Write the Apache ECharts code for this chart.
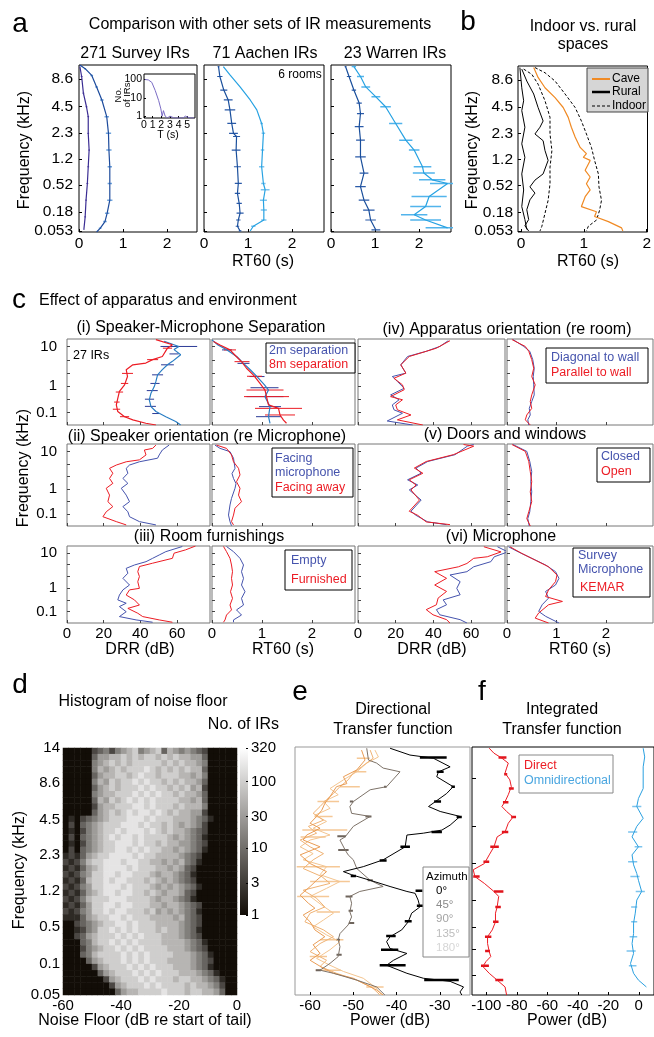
<!DOCTYPE html>
<html>
<head>
<meta charset="utf-8">
<script src="https://cdn.jsdelivr.net/npm/echarts@6/dist/echarts.min.js"></script>
<style>
html, body { margin: 0; padding: 0; background: #fff; }
#chart { width: 654px; height: 1037px; }
</style>
</head>
<body>
<div id="chart"></div>
<script>
// ---------- data (x value, frequency band position) ----------
// panel a/b band positions 0..32, c rows 0..30, d/e/f 0..40
var bandPosA = [0.2, 3.8, 9.0, 14.0, 19.0, 24.1, 29.3];
var bandLabA = ['0.053', '0.18', '0.52', '1.2', '2.3', '4.5', '8.6'];
var bandPosC = [4.4, 13.5, 27.3];
var bandLabC = ['0.1', '1', '10'];
var bandMinorC = [4.4, 9.0, 13.5, 18.1, 22.7, 27.3];
var bandPosD = [0, 5, 11, 16.8, 22.7, 28.4, 34.4, 40];
var bandLabD = ['0.05', '0.1', '0.5', '1.2', '2.3', '4.5', '8.6', '14'];
var bandTicksF = [3.2, 7.3, 11, 15.3, 21.2, 27.2, 34.9];

// a: 271 survey IRs
var surveyLow = [[0.02,31.7],[0.06,29.8],[0.1,26.6],[0.17,24],[0.21,22.1],[0.21,18.9],[0.23,15.7],[0.21,12.5],[0.19,9.3],[0.16,6.1],[0.14,2.9],[0.11,0.4]];
var surveyLowErr = [0,0.02,0.02,0.02,0.02,0.02,0.02,0.02,0.02,0.02,0.02,0];
var surveyMed = [[0.02,32],[0.14,31.3],[0.29,30],[0.4,27.8],[0.52,25.3],[0.63,22.1],[0.67,18.9],[0.68,15.7],[0.7,12.5],[0.7,9.3],[0.7,6.1],[0.64,3.6],[0.59,2],[0.48,0.7],[0.4,0]];
var surveyMedErr = [0,0.02,0.03,0.03,0.04,0.05,0.06,0.06,0.05,0.05,0.06,0.05,0.04,0.03,0];
// a: inset histogram of T
var insetT = [0.1,0.5,0.9,1.3,1.7,1.95,2.1,2.25,2.45,2.7,2.9,3.0,3.1,3.5,4.0,4.5,4.7,4.8,4.9,5.3,5.8];
var insetCount = [100,95,70,25,7,2.5,1,2,1,0,0,1,0,0,0,0,0,1,0,0,0];
// a: Aachen
var aachenDark = [[0.33,31.7],[0.36,29.8],[0.45,27.2],[0.55,25.3],[0.59,23.4],[0.63,20.8],[0.67,18.9],[0.74,18.3],[0.73,15.7],[0.76,12.5],[0.78,9.3],[0.76,7.4],[0.8,5.5],[0.82,3.6],[0.78,2.3],[0.76,1.1],[0.82,0.2]];
var aachenDarkErr = [0.02,0.06,0.08,0.1,0.12,0.1,0.1,0.08,0.1,0.08,0.08,0.06,0.06,0.08,0.05,0.04,0.03];
var aachenLight = [[0.44,31.7],[0.59,30.1],[0.82,27.8],[1.05,25.3],[1.2,23.4],[1.31,20.8],[1.35,18.9],[1.33,15.7],[1.31,12.5],[1.35,9.3],[1.39,8.1],[1.35,6.1],[1.36,4.2],[1.36,2.3],[1.12,1.1],[1.05,0.2]];
var aachenLightErr = [0,0,0,0,0,0.03,0.04,0.04,0.06,0.05,0.1,0.08,0.07,0.06,0.05,0];
// a: Warren
var warrenDark = [[0.33,31.7],[0.41,29.8],[0.52,27.2],[0.64,24.7],[0.67,22.7],[0.64,20.2],[0.67,17.6],[0.67,14.4],[0.75,11.3],[0.67,8.7],[0.75,6.1],[0.86,4.2],[0.9,2.3],[1.02,0.4]];
var warrenDarkErr = [0.02,0.05,0.05,0.06,0.08,0.1,0.1,0.12,0.1,0.12,0.12,0.13,0.12,0.1];
var warrenLight = [[0.52,31.7],[0.67,29.8],[0.79,27.8],[1.02,25.9],[1.24,24],[1.47,20.8],[1.7,17.6],[1.89,15.7],[2.08,12.5],[2.11,11.3],[2.3,10],[2.65,9.3],[2.23,6.8],[2.15,4.9],[1.89,3.3],[2.15,2.3],[2.65,0.8]];
var warrenLightErr = [0.05,0.08,0.1,0.1,0.12,0.15,0.15,0.12,0.2,0.25,0.3,0.4,0.4,0.35,0.3,0.35,0.5];

// b: indoor vs rural
var rural1 = [[-0.02,31.7],[0.01,27.8],[0.04,25.3],[0.01,23.4],[0.06,20.2],[0.01,17],[0.06,14.4],[0.01,11.2],[0.04,8.1],[0.01,4.9],[0.06,2.4],[0.09,0.5]];
var rural2 = [[0.01,31.4],[0.09,29.1],[0.2,26.6],[0.27,24],[0.35,21.4],[0.3,20.2],[0.22,18.9],[0.35,17.6],[0.38,15.7],[0.43,13.8],[0.35,11.2],[0.22,10],[0.14,8.7],[0.22,7.5],[0.14,6.2],[0.09,4.3],[0.12,2.4],[0.06,1.2],[0.12,0.2]];
var indoor1 = [[0.04,31.4],[0.17,30.4],[0.27,28.5],[0.38,25.3],[0.46,22.1],[0.46,18.9],[0.49,15.7],[0.46,12.5],[0.46,9.3],[0.43,6.1],[0.38,3.6],[0.33,1.1],[0.3,0.2]];
var indoor2 = [[0.22,31.7],[0.38,30.7],[0.54,29.1],[0.7,26.6],[0.86,24],[0.96,21.4],[1.04,18.9],[1.12,16.3],[1.17,13.8],[1.23,11.2],[1.24,8.7],[1.28,6.1],[1.25,4.2],[1.2,2.3],[1.07,1.1],[1.04,0.2]];
var cave = [[0.2,31.7],[0.27,29.8],[0.38,27.8],[0.54,25.9],[0.67,24],[0.75,22.1],[0.8,20.2],[0.86,18.3],[0.94,16.3],[1.04,15.1],[0.99,14.4],[1.1,13.8],[1.02,11.9],[1.1,10.6],[1.04,9.3],[1.1,8.1],[1.02,6.8],[0.96,4.9],[1.2,3.9],[1.17,3],[1.39,2],[1.6,0.8],[1.62,0.2]];

// c (i) separation
var sepRedDrr = [[48.5,29.8],[57.5,28],[54.8,26.8],[52,23.9],[46.7,22.8],[43,21.6],[35.9,21],[32.3,19.3],[33,16.9],[31.4,14],[28.6,11.7],[27.7,9.3],[26.9,7],[27.7,4.7],[31.4,2.9],[35.9,1.8],[43,0.6],[48.5,0]];
var sepBlueDrr = [[53,29.2],[61,27.4],[58.4,26.3],[62,24.5],[57.5,22.2],[54.8,21],[52,19.3],[49.4,17.5],[48.5,15.2],[47.6,13.4],[45.8,11.1],[44.9,8.8],[45.8,6.4],[48.5,4.7],[53.9,2.9],[59.3,1.2],[62,0]];
var sepRedDrrErr = [[54.8,26.8,2.5],[46.7,22.8,3],[33,18,3],[31.4,14.5,2],[28.6,11.5,2],[27.2,8,1.5],[27,5.5,2],[31.4,2.9,2.5]];
var sepBlueDrrErr = [[61,27.4,10],[58.4,24.8,2.5],[54.8,21,3.5],[49.4,17.5,3],[48,14.5,2.5],[46.5,12,3],[45,9,2.5],[45.5,6.5,3],[48.5,4,2]];
var sepRedRt = [[0.03,29.1],[0.16,27.9],[0.36,26.2],[0.49,23.8],[0.59,22.1],[0.69,19.8],[0.83,17.4],[0.96,14.5],[1.06,12.2],[1.09,9.9],[1.13,7],[1.33,5.8],[1.36,3.5],[1.43,1.7],[1.49,0.6]];
var sepBlueRt = [[0,29.7],[0.12,27.9],[0.3,26.2],[0.5,23.8],[0.63,21.5],[0.77,19.2],[0.9,16.9],[1.05,14],[1.13,12.2],[1.06,9.9],[1.16,6.4],[1.13,2.9],[1.16,0.6]];
var sepRedRtErr = [[0.36,26.2,0.12],[0.6,22.1,0.15],[0.85,17,0.15],[1.06,12.2,0.37],[1.09,9.9,0.45],[1.33,5.8,0.47],[1.36,3.5,0.3]];
var sepBlueRtErr = [[0.3,26.2,0.1],[0.63,21.5,0.12],[0.9,16.9,0.15],[1.05,13,0.28],[1.06,9.9,0.37],[1.16,6.4,0.22],[1.13,2.9,0.25]];
// c (ii) speaker orientation
var orientRedDrr = [[48.5,29.6],[46.7,28.4],[42.2,27.8],[43.1,26],[39.5,24.2],[32.3,23.5],[26.9,22.3],[23.2,21.1],[25,19.3],[23.2,17.4],[25,15.6],[21.4,13.8],[23.2,11.3],[22.3,8.9],[25,7.1],[21.4,5.2],[19.6,3.4],[26.9,1.6],[32.3,0.4]];
var orientBlueDrr = [[55.7,29.6],[52,27.8],[50.3,26],[49.4,24.8],[39.5,23.5],[34.1,22.3],[32.3,21.1],[33.2,19.3],[30.5,17.4],[33.2,15.6],[29.6,13.8],[32.3,11.3],[34.1,8.9],[30.5,7.1],[33.2,5.2],[34.1,3.4],[39.5,1.6],[48.5,0.4]];
var orientRedRt = [[0.09,29.6],[0.29,28.4],[0.39,26],[0.43,23.5],[0.53,21.1],[0.56,18.7],[0.49,16.2],[0.56,13.8],[0.53,11.3],[0.59,8.9],[0.46,6.5],[0.43,4],[0.39,1.6],[0.43,0.4]];
var orientBlueRt = [[0.06,29.6],[0.16,28.4],[0.36,27.2],[0.43,24.8],[0.46,21.1],[0.4,19.2],[0.43,17.4],[0.48,15.5],[0.46,13.8],[0.39,10.1],[0.36,7.7],[0.33,4],[0.36,1.6],[0.39,0.1]];
// c (iii) furnishings
var furnBlueDrr = [[62.9,29.8],[53.9,27.8],[50.3,26.5],[46.7,25.2],[43.1,23.9],[36.8,22.6],[32.3,21.3],[33.2,19.4],[30.5,17.4],[34.1,14.8],[30.5,12.9],[28.6,10.9],[27.7,9],[32.3,7.7],[28.6,6.4],[32.3,4.4],[28.6,2.5],[37.7,1.2],[46.7,0.3]];
var furnRedDrr = [[70.1,30],[64.7,28.5],[58.4,27.2],[57.5,25.2],[46.7,23.3],[39.5,22],[38.6,20],[39.5,18.1],[38.6,16.1],[39.5,13.5],[34.1,12.9],[32.3,10.9],[36.8,9],[39.5,7],[33.2,5.7],[38.6,3.8],[41.3,2.5],[50.3,1.2],[57.5,0.3]];
var furnRedRt = [[0.23,29.8],[0.29,27.8],[0.36,25.2],[0.39,22.6],[0.41,20],[0.39,17.4],[0.41,14.8],[0.37,12.2],[0.41,9.6],[0.36,7],[0.39,5.1],[0.29,3.1],[0.26,1.2],[0.23,0.3]];
var furnBlueRt = [[0.29,29.8],[0.43,27.8],[0.56,25.2],[0.63,22.6],[0.59,20],[0.63,17.4],[0.59,14.8],[0.66,12.2],[0.59,9.6],[0.63,7],[0.49,5.1],[0.59,3.1],[0.43,1.2],[0.43,0.3]];
// c (iv) apparatus orientation
var appRedDrr = [[48.8,29.4],[41.6,26.8],[36.2,25.7],[27.2,23.9],[22.7,21],[25.4,18.1],[19.1,16.3],[23.6,14],[24.5,12.3],[17.3,9.9],[23.6,8.8],[20,7],[20.9,5.3],[28.1,3.5],[20.9,1.8],[34.4,0]];
var appBlueDrr = [[47.9,29.4],[43.4,27.4],[36.2,25.7],[26.3,23.9],[22.7,21],[25.4,18.1],[18.2,16.9],[20.9,15.2],[24.5,12.8],[17.3,10.5],[21.8,8.8],[18.2,7],[19.1,5.3],[23.6,4.1],[15.5,1.4],[29,0]];
var appRedRt = [[0.1,29.8],[0.37,27.4],[0.44,25.7],[0.5,22.8],[0.54,19.8],[0.5,16.9],[0.57,14],[0.5,10.5],[0.47,8.2],[0.5,5.8],[0.4,3.5],[0.37,1.8],[0.47,0]];
var appBlueRt = [[0.12,29.8],[0.34,27.4],[0.46,25.7],[0.52,22.8],[0.55,19.8],[0.53,16.9],[0.54,14],[0.55,10.5],[0.5,8.2],[0.45,5.8],[0.47,3.5],[0.42,1.8],[0.44,0]];
// c (v) doors and windows
var doorRedDrr = [[56,29.8],[61.4,29.2],[50.6,26.1],[36.2,23.6],[29.9,21.2],[34.4,19.3],[27.2,16.9],[30.8,15],[28.1,13.2],[32.6,9.5],[27.2,5.4],[31.7,3.9],[36.2,1.5],[48.8,0.5]];
var doorBlueDrr = [[61.4,29.8],[58,29.2],[51.5,26.1],[37,23.6],[30.8,21.2],[33.5,19.3],[26.3,16.9],[31.7,15],[27.2,13.2],[33.5,9.5],[28.1,5.4],[30.8,3.9],[37,1.5],[47,0.5]];
var doorRedRt = [[0.1,29.8],[0.37,27.3],[0.44,23.6],[0.47,19.9],[0.5,16.2],[0.47,12.5],[0.5,8.9],[0.44,5.2],[0.4,2.7],[0.47,0]];
var doorBlueRt = [[0.12,29.8],[0.4,27.3],[0.46,23.6],[0.5,19.9],[0.48,16.2],[0.5,12.5],[0.48,8.9],[0.46,5.2],[0.42,2.7],[0.45,0]];
// c (vi) microphone
var micBlueDrr = [[74,29.7],[79.5,27.7],[72.3,25.8],[70.5,23.9],[61.4,21.9],[57.8,20],[48.8,18.7],[54.2,16.1],[52.4,13.5],[54.2,11],[45.2,9],[47,7.1],[41.6,5.2],[43.4,3.2],[54.2,1.3],[57.8,0]];
var micRedDrr = [[66.8,29.7],[75.9,27.7],[68.6,25.8],[61.4,25.2],[57.8,23.2],[53.3,21.9],[40.7,20],[47,17.4],[40.7,14.8],[47,12.3],[42.5,9.7],[41.6,7.1],[36.2,5.2],[39.8,3.2],[47,1.3],[48.8,0]];
var micBlueRt = [[0.03,29.7],[0.23,27.7],[0.5,25.2],[0.78,22.6],[0.98,20],[1.05,17.4],[0.98,14.8],[0.78,12.3],[0.84,9.7],[0.71,7.1],[0.64,4.5],[0.78,2.6],[1.05,0]];
var micRedRt = [[0.06,29.7],[0.3,27.1],[0.57,24.5],[0.84,21.9],[1.01,18.7],[0.98,16.1],[0.84,12.9],[0.78,10.3],[1.12,8.4],[0.84,7.1],[0.64,3.9],[0.57,1.9],[0.84,0]];

// d: noise floor histogram, one string per frequency row (top row first),
// one digit per 2 dB bin, digit = count level (see levelCounts)
var noiseDb = [-59,-57,-55,-53,-51,-49,-47,-45,-43,-41,-39,-37,-35,-33,-31,-29,-27,-25,-23,-21,-19,-17,-15,-13,-11,-9,-7,-5,-3,-1];
var levelCounts = [0, 1, 2, 4, 8, 15, 30, 55, 100, 170];
var noiseRows = [
  '000003453567856784765654300000',
  '000004667787878878787766400000',
  '000005678787888887878776500000',
  '000005767878889878787877400000',
  '000004677887898878887767500000',
  '000005768788989887878776400000',
  '000004678788898988787867300000',
  '000005677888989898878776400000',
  '000004768789898988887767400000',
  '000003677888998988878777500000',
  '000004678789899898787766300000',
  '020345678889998988877765420000',
  '030456788899989887876765310000',
  '020356788989998987877654300000',
  '130456789899898888767654200000',
  '020356788999898878776654310000',
  '030456788998989887767654200000',
  '232467889999898877776543000000',
  '323578899989988776767542000000',
  '232467899998988877676431000000',
  '323568899899888767765420000000',
  '232478898998887876765430000000',
  '323568899989888767676542000000',
  '232467899899887876776431000000',
  '323578889998888767765420000000',
  '232468899899888776776543000000',
  '323568898998887867676542000000',
  '222467889989888777767543000000',
  '003456788998988877776543000000',
  '002356889898988878776542000000',
  '003467888989898887776543100000',
  '000457889898988887777654200000',
  '000356788989898888777654300000',
  '000457888898989888877765420000',
  '000046788898989888777765430000',
  '000003678889898988877765420000',
  '000000467888989898887776542000',
  '000000036788898988878877654200',
  '000000003678889898888787765300',
  '000000000467788889888788776400'
];
var cbarPos = [0, 0.477, 1, 1.477, 2, 2.505];
var cbarLab = ['1', '3', '10', '30', '100', '320'];

// e: directional transfer function (dB, band)
var az0 = [[-41.5,39.8],[-36.9,38.7],[-31.5,38.2],[-27.6,36.8],[-30.3,36],[-30.7,35.2],[-26.9,33.6],[-28.4,32.5],[-32.6,30.4],[-29.9,29.6],[-25.3,28.8],[-27.6,27.4],[-29.5,26.6],[-33.8,26.1],[-37.6,25.8],[-38,23.9],[-43.1,21.8],[-47.7,20.7],[-52.3,19.9],[-50.4,19.4],[-46.1,18.5],[-41.5,17.5],[-37.6,16.7],[-35.7,16.4],[-35,15.3],[-34.6,14.2],[-36.5,13.2],[-37.3,11.8],[-38.8,10.5],[-41.5,9.4],[-42.3,8.6],[-41.5,7.5],[-37.6,6.7],[-40.7,5.6],[-42.3,4.8],[-37.6,3.5],[-33.8,2.7],[-27.6,2.2],[-24.5,1.3],[-25.3,0.5],[-24.9,0]];
var az0Err = [[-31.5,38.3,3.1],[-29.9,36,0.8],[-26.9,33.6,0.4],[-30.5,31.2,0.8],[-25.5,28.7,0.6],[-30.7,26.3,1.2],[-38,23.9,1.1],[-43.1,21.7,0.8],[-50,19.2,0.6],[-34.8,16.8,0.8],[-34.6,14.4,0.7],[-37.3,11.9,0.8],[-41.3,9.5,1.1],[-41.6,7.3,2],[-40.9,4.8,3],[-29.6,2.4,4]];
var az45 = [[-46.9,39.8],[-46.5,37.9],[-44.6,37.4],[-43.1,36.6],[-39.2,36],[-42.3,33.6],[-46.1,33.1],[-50,31.2],[-50.8,30.4],[-50.4,29.3],[-46.1,28.8],[-50,27.2],[-51.9,25.5],[-53.1,25],[-51.9,23.4],[-51.2,22.6],[-50,21.8],[-49.2,20.4],[-46.1,18.5],[-43.1,17.5],[-48.5,16.7],[-50.8,15.9],[-50.4,14.8],[-50.8,13.4],[-50.4,12.6],[-51.2,11.3],[-53.1,9.9],[-53.5,8.9],[-53.1,7.8],[-53.5,6.2],[-55.4,5.1],[-57.7,4],[-54.6,3.5],[-49.2,2.4],[-44.6,1.3],[-42.7,0]];
var az45Err = [[-42.6,33.6,0.3],[-50.4,31.2,0.4],[-46.5,28.8,0.7],[-52.7,25.6,1],[-52.3,23.4,1.2],[-46.1,18.5,0.6],[-51,15.9,0.8],[-50.6,13.6,0.5],[-50.4,11.6,0.6],[-53.5,8.9,0.4],[-53.3,6.5,0.6],[-58.1,4,0.6]];
var az90 = [[-48.1,39.5],[-47.3,37.9],[-49.2,36.3],[-52.3,35.2],[-51.5,34.1],[-53.9,33.6],[-55.4,32],[-56.6,30.9],[-57.3,29.8],[-58.5,28.8],[-60,27.7],[-57.7,26.9],[-60.8,25.8],[-61.6,25],[-57.7,23.9],[-62.3,22.6],[-60,21.2],[-56.2,19.9],[-58.5,18.5],[-60,17.5],[-62.3,16.1],[-60.4,14.8],[-58.9,14],[-61.6,12.9],[-60,11.8],[-58.9,10.5],[-56.6,9.4],[-59.3,8.1],[-57.7,6.7],[-60,5.6],[-56.9,4.3],[-54.6,3.5],[-50,2.7],[-46.9,1.6],[-44.6,0.8],[-43.1,0]];
var az135 = [[-46.1,39.5],[-45.4,38.2],[-48.1,36.8],[-50,35.8],[-51.2,34.7],[-53.1,33.6],[-54.6,32.5],[-56.2,31.5],[-57.7,30.4],[-59.3,29.3],[-56.9,28.2],[-60.4,27.2],[-58.5,26.1],[-62.3,25],[-60,23.9],[-56.9,22.8],[-59.3,21.8],[-61.6,20.4],[-57.3,19.1],[-55.4,18],[-61.6,16.9],[-58.5,15.6],[-56.6,14.2],[-60,13.2],[-61.2,11.8],[-56.9,10.5],[-54.6,9.4],[-57.7,8.3],[-60,7],[-56.2,5.6],[-57.7,4.6],[-53.9,3.5],[-49.2,2.4],[-45.8,1.3],[-43.8,0]];
var az180 = [[-45,39.5],[-44.2,38.4],[-46.9,37.4],[-49.2,36],[-52.3,34.7],[-55.4,33.3],[-53.5,32.3],[-56.9,31.2],[-55.4,30.1],[-58.9,29],[-56.2,28],[-59.3,26.9],[-55.4,25.8],[-60,25],[-62.3,23.9],[-59.3,22.8],[-61.6,21.8],[-56.2,20.7],[-57.7,19.4],[-53.1,18.3],[-56.2,17.2],[-60,15.9],[-57.3,14.5],[-54.6,13.2],[-56.9,12.1],[-59.3,11],[-56.2,9.7],[-53.1,8.6],[-55.4,7.3],[-58.5,5.9],[-55.4,4.8],[-52.3,3.8],[-47.7,2.7],[-45,1.3],[-43.4,0]];
var azRearErr = [[-47.7,38.2,1.5],[-48.5,36,1.5],[-50.8,33.6,2.3],[-55.8,31.2,2.5],[-56.9,28.8,2.1],[-56.6,26.6,5.2],[-59.3,25.5,2.9],[-58.1,20.7,5],[-55.4,18.3,4.6],[-59.3,15.9,3.7],[-55.8,13.4,2.7],[-55,8.9,2.7],[-58.1,6.2,2],[-55.8,4,2.9],[-45,1.3,2]];

// f: integrated transfer function
var direct = [[-98.1,39.8],[-95,39],[-89.8,38.2],[-85.6,37.4],[-86.7,36.6],[-87.7,35.8],[-84.6,34.7],[-83.6,33.6],[-85.6,32.3],[-87.7,31.2],[-89.8,30.4],[-86.7,29.6],[-82.5,28.7],[-85.6,27.7],[-87.7,26.3],[-92.9,25.5],[-95,23.9],[-98.1,22.6],[-101.3,21.2],[-108.6,20.2],[-107.5,19.1],[-101.3,18],[-95,16.7],[-91.9,15.9],[-92.9,14.2],[-94,13.2],[-94,11.8],[-96.1,10.5],[-99.2,9.4],[-99.2,8.3],[-98.1,7],[-97.1,6.2],[-100.2,5.4],[-102.3,4.6],[-98.1,3.5],[-92.9,2.4],[-87.7,1.3],[-86.7,0]];
var directErr = [[-89.4,38.3,2.6],[-87.3,35.6,1],[-83.6,33.3,1.6],[-87.3,31.1,1.8],[-82.1,28.7,1.6],[-87.7,26.3,2.1],[-94.6,23.9,2.8],[-100,21.5,1.9],[-106.5,19.1,2.1],[-91.9,16.7,3.1],[-92.3,14.2,1.8],[-93.8,11.8,1.8],[-98.8,9.4,2.1],[-99.2,7.1,1.6],[-100.9,4.7,2.6],[-91.5,2.4,2.6]];
var omni = [[2.9,39.8],[3.9,38.4],[2.9,36.8],[2.9,35.8],[2.9,33.3],[-0.2,31.7],[-1.3,30.4],[2.9,28.5],[-1.3,27.2],[-4.4,25.5],[-0.2,23.9],[-4.4,22.6],[-3.4,21],[-1.3,19.6],[-0.2,18.5],[1.9,16.7],[-1.3,15.3],[-2.3,13.2],[-3.4,11.6],[-3.4,9.9],[-4.4,8.3],[-3.4,6.7],[-5.4,5.1],[-3.4,3.5],[-0.2,2.4],[5,1.3]];
var omniErr = [[-1.3,30.4,3],[-4,26.3,3],[-0.2,23.9,2.5],[-4,21.5,3],[-2.5,19.1,3],[1,16.7,3],[-3,14.2,2],[-3,11.8,2],[-3.5,9.4,2.5],[-5,7.1,3],[-4,4.7,2.5]];

// ---------- building the chart ----------
var FONT = '"Liberation Sans", Arial, Helvetica, sans-serif';
var RED = '#ec1c24';
var BLUEC = '#4553ad';
var grids = [], xAxes = [], yAxes = [], series = [], gfx = [];

function fmt(pos, labels) {
  return function (v) {
    for (var i = 0; i < pos.length; i++) {
      if (Math.abs(pos[i] - v) < 1e-6) return labels[i];
    }
    return '';
  };
}

function axis(min, max, ticks, labPos, labels, o) {
  o = o || {};
  return {
    type: 'value', min: min, max: max,
    position: o.position,
    axisLine: { show: false, onZero: false },
    splitLine: { show: false },
    axisTick: { show: ticks.length > 0, inside: true, length: o.tickLen || 3, customValues: ticks,
      lineStyle: { color: o.tickColor || '#000', width: 1 } },
    axisLabel: { show: !!labels, customValues: labPos, formatter: labels ? fmt(labPos, labels) : undefined,
      fontSize: o.fontSize || 15, fontFamily: FONT, color: '#000', margin: o.margin || 4 }
  };
}

function addGrid(rect, xa, ya, border, bg) {
  var gi = grids.length;
  grids.push({ left: rect[0], top: rect[1], width: rect[2], height: rect[3], show: !!border,
    borderColor: border || '#000', borderWidth: 1, backgroundColor: bg || 'transparent' });
  xa.gridIndex = gi; ya.gridIndex = gi;
  xAxes.push(xa); yAxes.push(ya);
  return gi;
}

function line(gi, data, color, width, extra) {
  var s = { type: 'line', xAxisIndex: gi, yAxisIndex: gi, data: data, symbol: 'none', silent: true,
    lineStyle: { color: color, width: width || 1 }, itemStyle: { color: color }, z: 3 };
  for (var k in (extra || {})) s[k] = extra[k];
  series.push(s);
}

function errBars(gi, list, color, width) {
  var d = [];
  list.forEach(function (e) { d.push([e[0] - e[2], e[1]], [e[0] + e[2], e[1]], '-'); });
  line(gi, d, color, width || 1, { z: 2 });
}

function zipErr(pts, errs) {
  var out = [];
  pts.forEach(function (p, i) { if (errs[i] > 0) out.push([p[0], p[1], errs[i]]); });
  return out;
}

function txt(x, y, s, size, o) {
  o = o || {};
  var st = { text: s, font: 'normal ' + size + 'px ' + FONT, fill: o.color || '#000',
    textAlign: o.align || 'center', align: o.align || 'center',
    textVerticalAlign: 'middle', verticalAlign: 'middle' };
  gfx.push({ type: 'text', x: x, y: y, rotation: o.rot || 0, style: st, z: 20, silent: true });
}

function box(x, y, w, h, stroke, fill) {
  gfx.push({ type: 'rect', shape: { x: x, y: y, width: w, height: h }, z: 15, silent: true,
    style: { fill: fill || '#fff', stroke: stroke || '#000', lineWidth: 1 } });
}

function seg(x1, y1, x2, y2, color, width, dash) {
  gfx.push({ type: 'line', shape: { x1: x1, y1: y1, x2: x2, y2: y2 }, z: 16, silent: true,
    style: { stroke: color, lineWidth: width, lineDash: dash || null } });
}

var T = 16;    // title size
var AX = 16;   // axis title size
var LG = 12.5; // legend text size

// ----- panel a -----
var aX = [[79, 118], [204, 120], [331, 120]];
var aGrids = aX.map(function (p, i) {
  return addGrid([p[0], 65, p[1], 167],
    axis(0, p[1] / 44, [0, 1, 2], [0, 1, 2], ['0', '1', '2'], { fontSize: 15.5, margin: 4 }),
    axis(0, 32, bandPosA, bandPosA, i === 0 ? bandLabA : null, { fontSize: 15.5, margin: 6 }), '#000');
});
errBars(aGrids[0], zipErr(surveyLow, surveyLowErr), '#4a3aa0');
errBars(aGrids[0], zipErr(surveyMed, surveyMedErr), '#6fa3dc', 1.5);
line(aGrids[0], surveyLow, '#3b2d93', 1.2);
line(aGrids[0], surveyMed, '#1d4b9c', 1.2);
errBars(aGrids[1], zipErr(aachenDark, aachenDarkErr), '#2a5aa8', 1.2);
errBars(aGrids[1], zipErr(aachenLight, aachenLightErr), '#7cc4ee', 1.5);
line(aGrids[1], aachenDark, '#1a4f9c', 1.2);
line(aGrids[1], aachenLight, '#27a2e2', 1.2);
errBars(aGrids[2], zipErr(warrenDark, warrenDarkErr), '#2a5aa8', 1.2);
errBars(aGrids[2], zipErr(warrenLight, warrenLightErr), '#52b4ec', 1.5);
line(aGrids[2], warrenDark, '#1a4f9c', 1.2);
line(aGrids[2], warrenLight, '#27a2e2', 1.2);
// inset
var gIn = addGrid([144, 74, 51, 44],
  axis(0, 5.9, [0, 1, 2, 3, 4, 5], [0, 1, 2, 3, 4, 5], ['0', '1', '2', '3', '4', '5'], { fontSize: 10.5, margin: 2, tickLen: 2 }),
  axis(-0.1, 2.3, [0, 1, 2], [0, 1, 2], ['1', '10', '100'], { fontSize: 10.5, margin: 2, tickLen: 2 }), '#000', '#fff');
line(gIn, insetT.map(function (t, i) {
  return [t, insetCount[i] > 0 ? Math.log10(insetCount[i]) : -0.1];
}), '#7b6cc4', 1);

// ----- panel b -----
var gB = addGrid([518, 66, 130, 166],
  axis(-0.05, 2.013, [0, 1, 2], [0, 1, 2], ['0', '1', '2'], { fontSize: 15.5 }),
  axis(0, 32, bandPosA, bandPosA, bandLabA, { fontSize: 15.5, margin: 5 }), '#000');
line(gB, rural1, '#000', 1);
line(gB, rural2, '#000', 1);
line(gB, indoor1, '#000', 1, { lineStyle: { color: '#000', width: 1, type: [3, 2] } });
line(gB, indoor2, '#000', 1, { lineStyle: { color: '#000', width: 1, type: [3, 2] } });
line(gB, cave, '#f08a24', 1.2);

// ----- panel c -----
var cRows = [[339, 86], [444, 82], [546, 77]];
var cCols = [[67, 143, 'drr', 78], [212, 143, 'rt', 2.86], [358, 147, 'drr', 78], [507, 146, 'rt', 2.95]];
function cGrid(row, col) {
  var r = cRows[row], c = cCols[col];
  var bottom = row === 2;
  var xa = c[2] === 'drr'
    ? axis(0, c[3], [0, 20, 40, 60], [0, 20, 40, 60], bottom ? ['0', '20', '40', '60'] : null, { fontSize: 15, margin: 3, tickColor: '#444' })
    : axis(0, c[3], [0, 1, 2], [0, 1, 2], bottom ? ['0', '1', '2'] : null, { fontSize: 15, margin: 3, tickColor: '#444' });
  var ya = axis(0, 30, bandMinorC, bandPosC, col === 0 ? bandLabC : null, { fontSize: 15, margin: 10, tickColor: '#444' });
  return addGrid([c[0], r[0], c[1], r[1]], xa, ya, '#777');
}
var g;
g = cGrid(0, 0);
errBars(g, sepBlueDrrErr, '#2b3a96');
errBars(g, sepRedDrrErr, RED);
line(g, sepBlueDrr, '#2a7ec4', 1.2); line(g, sepRedDrr, RED, 1.2);
g = cGrid(0, 1);
errBars(g, sepBlueRtErr, '#2b3a96');
errBars(g, sepRedRtErr, RED);
line(g, sepBlueRt, '#2a7ec4', 1.2); line(g, sepRedRt, RED, 1.2);
g = cGrid(1, 0); line(g, orientBlueDrr, BLUEC); line(g, orientRedDrr, RED);
g = cGrid(1, 1); line(g, orientBlueRt, BLUEC); line(g, orientRedRt, RED);
g = cGrid(2, 0); line(g, furnBlueDrr, BLUEC); line(g, furnRedDrr, RED);
g = cGrid(2, 1); line(g, furnBlueRt, BLUEC); line(g, furnRedRt, RED);
g = cGrid(0, 2); line(g, appBlueDrr, BLUEC); line(g, appRedDrr, RED);
g = cGrid(0, 3); line(g, appBlueRt, BLUEC); line(g, appRedRt, RED);
g = cGrid(1, 2); line(g, doorBlueDrr, BLUEC); line(g, doorRedDrr, RED);
g = cGrid(1, 3); line(g, doorBlueRt, BLUEC); line(g, doorRedRt, RED);
g = cGrid(2, 2); line(g, micBlueDrr, BLUEC); line(g, micRedDrr, RED);
g = cGrid(2, 3); line(g, micBlueRt, BLUEC); line(g, micRedRt, RED);

// ----- panel d -----
var heatData = [];
noiseRows.forEach(function (row, i) {
  var r = noiseRows.length - 1 - i;
  for (var c = 0; c < row.length; c++) {
    heatData.push([c, r, Math.log10(Math.max(levelCounts[+row[c]], 1))]);
  }
});
var gHeat = grids.length;
grids.push({ left: 63, top: 748, width: 174, height: 247, show: false });
xAxes.push({ gridIndex: gHeat, type: 'category', data: noiseDb, show: false });
yAxes.push({ gridIndex: gHeat, type: 'category', data: noiseRows.map(function (s, i) { return i; }), show: false });
var heatIndex = series.length;
series.push({ type: 'heatmap', xAxisIndex: gHeat, yAxisIndex: gHeat, data: heatData, silent: true,
  itemStyle: { borderWidth: 0 }, emphasis: { disabled: true }, z: 1 });
var gD = addGrid([63, 748, 174, 247],
  axis(-60, 0, [], [-60, -40, -20, 0], ['-60', '-40', '-20', '0'], { fontSize: 15, margin: 3 }),
  axis(0, 40, [], bandPosD, bandLabD, { fontSize: 15, margin: 3 }), null);
line(gD, [], '#000');
var gCb = addGrid([240, 748, 8, 167],
  axis(0, 1, [], [], null),
  axis(0, 2.505, cbarPos, cbarPos, cbarLab, { fontSize: 15, margin: 3, position: 'right', tickLen: 2 }), null);
line(gCb, [], '#000');
gfx.push({ type: 'rect', shape: { x: 240, y: 748, width: 8, height: 167 }, z: 0, silent: true,
  style: { fill: { type: 'linear', x: 0, y: 0, x2: 0, y2: 1,
    colorStops: [{ offset: 0, color: '#ffffff' }, { offset: 1, color: '#120d07' }] } } });

// ----- panel e -----
var gE = addGrid([295, 747, 175, 248],
  axis(-63.5, -23, [-60, -50, -40, -30], [-60, -50, -40, -30], ['-60', '-50', '-40', '-30'], { fontSize: 15, margin: 3 }),
  axis(0, 40, [], [], null), '#999');
errBars(gE, azRearErr, '#f5c896', 1.5);
line(gE, az180, '#f3c48f', 1);
line(gE, az135, '#efb274', 1);
line(gE, az90, '#e99c55', 1);
errBars(gE, az45Err, '#6e645c', 2);
line(gE, az45, '#7d7268', 1);
errBars(gE, az0Err, '#000', 2.5);
line(gE, az0, '#000', 1);

// ----- panel f -----
var gF = addGrid([472, 747, 191, 248],
  axis(-109.4, 10, [-100, -80, -60, -40, -20, 0], [-100, -80, -60, -40, -20, 0], ['-100', '-80', '-60', '-40', '-20', '0'], { fontSize: 15, margin: 3 }),
  axis(0, 40, bandTicksF, [], null, { tickLen: 4 }), '#000');
errBars(gF, omniErr, '#7cc4ee', 1.5);
line(gF, omni, '#2aa0e0', 1);
errBars(gF, directErr, '#e0141c', 2.5);
line(gF, direct, RED, 1);

// ----- texts -----
txt(20, 24, 'a', 28);
txt(260, 25, 'Comparison with other sets of IR measurements', T);
txt(135, 54, '271 Survey IRs', T);
txt(265, 54, '71 Aachen IRs', T);
txt(395, 54, '23 Warren IRs', T);
txt(300, 75, '6 rooms', 12);
txt(263, 262, 'RT60 (s)', AX);
txt(25, 150, 'Frequency (kHz)', AX, { rot: Math.PI / 2 });
txt(118, 95, 'No.', 9.5, { rot: Math.PI / 2 });
txt(127, 95, 'of IRs', 9.5, { rot: Math.PI / 2 });
txt(168, 135, 'T (s)', 10.5);

txt(468, 22, 'b', 28);
txt(583, 27, 'Indoor vs. rural', T);
txt(583, 45, 'spaces', T);
txt(473, 150, 'Frequency (kHz)', AX, { rot: Math.PI / 2 });
txt(588, 262, 'RT60 (s)', AX);
box(587, 68, 61, 44, '#444', '#d6d6d6');
seg(592, 79, 610, 79, '#f08a24', 2);
seg(592, 92, 610, 92, '#000', 2.5);
seg(592, 106, 610, 106, '#000', 1, [3, 2]);
txt(612, 79, 'Cave', 12, { align: 'left' });
txt(612, 92, 'Rural', 12, { align: 'left' });
txt(612, 106, 'Indoor', 12, { align: 'left' });

txt(19, 300, 'c', 28);
txt(39, 301, 'Effect of apparatus and environment', T, { align: 'left' });
txt(201, 328, '(i) Speaker-Microphone Separation', T);
txt(207, 437, '(ii) Speaker orientation (re Microphone)', T);
txt(209, 537, '(iii) Room furnishings', T);
txt(507, 330, '(iv) Apparatus orientation (re room)', T);
txt(505, 435, '(v) Doors and windows', T);
txt(501, 537, '(vi) Microphone', T);
txt(73, 356, '27 IRs', 12.5, { align: 'left' });
txt(24, 468, 'Frequency (kHz)', AX, { rot: Math.PI / 2 });
txt(140, 650, 'DRR (dB)', AX);
txt(283, 650, 'RT60 (s)', AX);
txt(432, 650, 'DRR (dB)', AX);
txt(580, 650, 'RT60 (s)', AX);
// c legends
box(266, 343, 89, 30);
txt(269, 351, '2m separation', LG, { align: 'left', color: BLUEC });
txt(269, 365, '8m separation', LG, { align: 'left', color: RED });
box(272, 448, 81, 49);
txt(275, 459, 'Facing', LG, { align: 'left', color: BLUEC });
txt(275, 473, 'microphone', LG, { align: 'left', color: BLUEC });
txt(275, 488, 'Facing away', LG, { align: 'left', color: RED });
box(285, 550, 67, 40);
txt(291, 561, 'Empty', LG, { align: 'left', color: BLUEC });
txt(291, 580, 'Furnished', LG, { align: 'left', color: RED });
box(546, 348, 102, 35);
txt(551, 358, 'Diagonal to wall', LG, { align: 'left', color: BLUEC });
txt(551, 373, 'Parallel to wall', LG, { align: 'left', color: RED });
box(597, 448, 53, 34);
txt(601, 457, 'Closed', LG, { align: 'left', color: BLUEC });
txt(601, 472, 'Open', LG, { align: 'left', color: RED });
box(573, 548, 77, 49);
txt(578, 556, 'Survey', LG, { align: 'left', color: BLUEC });
txt(578, 570, 'Microphone', LG, { align: 'left', color: BLUEC });
txt(580, 588, 'KEMAR', LG, { align: 'left', color: RED });

txt(20, 685, 'd', 28);
txt(143, 702, 'Histogram of noise floor', T);
txt(279, 725, 'No. of IRs', T, { align: 'right' });
txt(20, 870, 'Frequency (kHz)', AX, { rot: Math.PI / 2 });
txt(145, 1021, 'Noise Floor (dB re start of tail)', AX);

txt(300, 692, 'e', 28);
txt(393, 710, 'Directional', T);
txt(393, 730, 'Transfer function', T);
txt(390, 1021, 'Power (dB)', AX);
box(423, 867, 46, 90, '#888');
txt(426, 877, 'Azimuth', 11.5, { align: 'left' });
txt(436, 891, '0\u00b0', 11.5, { align: 'left', color: '#000' });
txt(436, 905, '45\u00b0', 11.5, { align: 'left', color: '#8a8a8a' });
txt(436, 919, '90\u00b0', 11.5, { align: 'left', color: '#a3a3a3' });
txt(436, 934, '135\u00b0', 11.5, { align: 'left', color: '#bdbdbd' });
txt(436, 948, '180\u00b0', 11.5, { align: 'left', color: '#d6d6d6' });

txt(482, 692, 'f', 28);
txt(562, 710, 'Integrated', T);
txt(562, 730, 'Transfer function', T);
txt(567, 1021, 'Power (dB)', AX);
box(519, 755, 94, 38, '#888');
txt(524, 766, 'Direct', LG, { align: 'left', color: RED });
txt(524, 781, 'Omnidirectional', LG, { align: 'left', color: '#4aa6e0' });

var chart = echarts.init(document.getElementById('chart'));
chart.setOption({
  animation: false,
  backgroundColor: '#fff',
  textStyle: { fontFamily: FONT },
  grid: grids,
  xAxis: xAxes,
  yAxis: yAxes,
  visualMap: [{ type: 'continuous', show: false, seriesIndex: heatIndex, min: 0, max: 2.505,
    inRange: { color: ['#120d07', '#ffffff'] } }],
  series: series,
  graphic: { elements: gfx }
});
</script>
</body>
</html>
